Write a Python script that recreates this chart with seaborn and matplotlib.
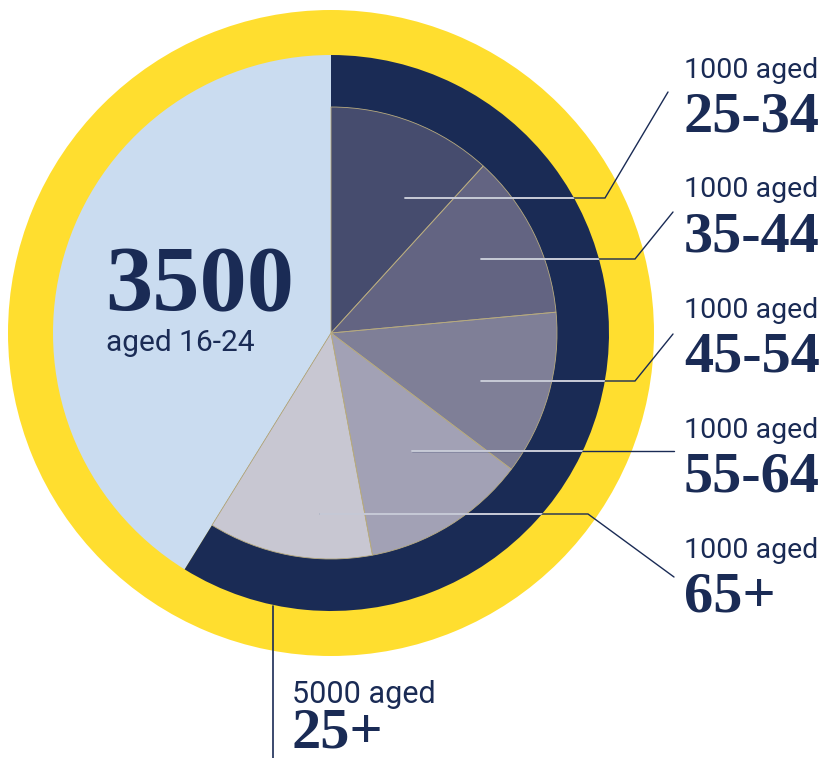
import numpy as np
import pandas as pd
import matplotlib
matplotlib.use('Agg')
import matplotlib.pyplot as plt
import seaborn as sns
from matplotlib.patches import Circle

# dados
grupo_total = ['16-24', '25+']
valor_total = [3500, 5000]

faixas = ['25-34', '35-44', '45-54', '55-64', '65+']
valores_faixas = [1000, 1000, 1000, 1000, 1000]

cores_faixas = ['#464c6e', '#636482', '#7f7f97', '#a2a1b5', '#c8c7d2']
azul_claro = '#cadcf0'
marinho = '#1a2b55'
amarelo = '#ffde2f'
linha_clara = '#c9ccd8'

sns.set_theme(style='white')
plt.rcParams['font.family'] = ['Roboto', 'DejaVu Sans']

W, H = 828, 758
fig = plt.figure(figsize=(W / 100, H / 100), dpi=100)
ax = fig.add_axes([0, 0, 1, 1])

# centro em pixels (y para cima)
cx, cy = 331, H - 333
r_amarelo, r_externo, r_interno = 323, 278, 226

# anel amarelo
ax.pie([sum(valor_total)], colors=[amarelo], radius=r_amarelo, center=(cx, cy),
       wedgeprops=dict(linewidth=0))

# 16-24 vs 25+
ax.pie(valor_total, colors=[azul_claro, marinho], radius=r_externo, center=(cx, cy),
       startangle=90, counterclock=True, wedgeprops=dict(linewidth=0))

# faixas de 25+ (parte interna)
ax.pie(valores_faixas + [valor_total[0]], colors=cores_faixas + ['none'],
       radius=r_interno, center=(cx, cy), startangle=90, counterclock=False,
       wedgeprops=dict(linewidth=0))

# divisorias finas entre as faixas, sem o contorno do arco
bordas, _ = ax.pie(valores_faixas + [valor_total[0]], colors=['none'] * 6,
                   radius=r_interno, center=(cx, cy), startangle=90, counterclock=False,
                   wedgeprops=dict(linewidth=0.6, edgecolor='#b8ab80'))
bordas[-1].set_edgecolor('none')
clip_borda = Circle((cx, cy), r_interno - 2, transform=ax.transData)
for b in bordas:
    b.set_clip_path(clip_borda)

# linhas de chamada (pixels, y para baixo)
chamadas = [
    [(405, 198), (605, 198), (668, 92)],
    [(481, 259), (635, 259), (673, 212)],
    [(481, 381), (635, 381), (673, 334)],
    [(412, 451), (674, 451)],
    [(320, 514), (588, 514), (674, 577)],
]
clip = Circle((cx, cy), r_externo, transform=ax.transData)
for pts in chamadas:
    xs = [p[0] for p in pts]
    ys = [H - p[1] for p in pts]
    ax.plot(xs, ys, color=marinho, lw=1.0, solid_joinstyle='miter')
    ln, = ax.plot(xs, ys, color=linha_clara, lw=1.4)
    ln.set_clip_path(clip)

ax.plot([273, 273], [H - 606, 0], color=marinho, lw=1.2)

# textos
serif = ['Liberation Serif', 'DejaVu Serif']
base_pequeno = [78, 197, 318, 438, 558]
base_grande = [132, 252, 372, 492, 612]
for faixa, v, yb1, yb2 in zip(faixas, valores_faixas, base_pequeno, base_grande):
    ax.text(684, H - yb1, f'{v} aged', fontsize=20.5, color=marinho, va='baseline', ha='left')
    ax.text(684, H - yb2, faixa, fontsize=42, color=marinho, va='baseline', ha='left',
            family=serif, fontweight='bold')

ax.text(105, H - 310, f'{valor_total[0]}', fontsize=68, color=marinho, va='baseline',
        ha='left', family=serif, fontweight='bold')
ax.text(106, H - 351, f'aged {grupo_total[0]}', fontsize=21.5, color=marinho,
        va='baseline', ha='left')

ax.text(292, H - 703, f'{valor_total[1]} aged', fontsize=22, color=marinho,
        va='baseline', ha='left')
ax.text(292, H - 748, grupo_total[1], fontsize=42, color=marinho, va='baseline',
        ha='left', family=serif, fontweight='bold')

ax.set_xlim(0, W)
ax.set_ylim(0, H)
ax.set_aspect('auto')
ax.axis('off')

fig.savefig('out.png', dpi=100, facecolor='white')
